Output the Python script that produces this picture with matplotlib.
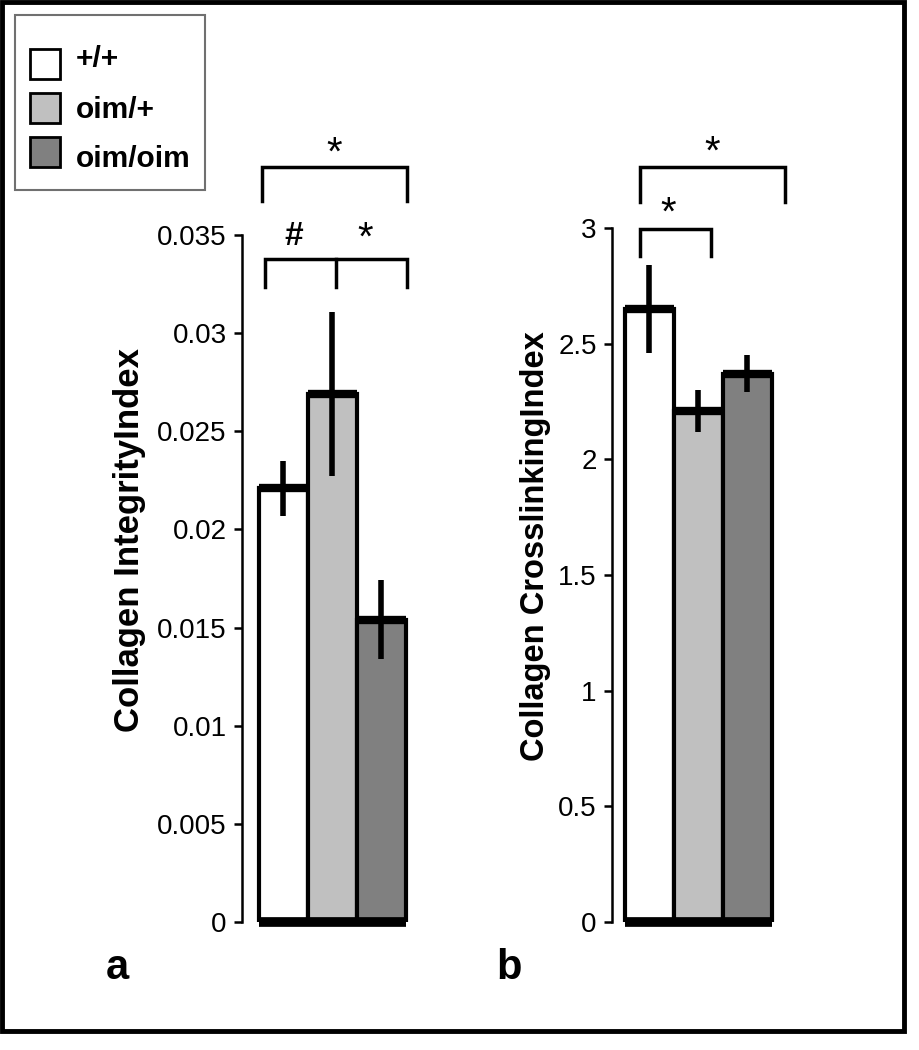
import matplotlib.pyplot as plt
from matplotlib.patches import Rectangle

plt.rcParams['font.family'] = ['Liberation Sans', 'DejaVu Sans']

# datos
grupos = ['+/+', 'oim/+', 'oim/oim']
colores = ['#ffffff', '#c0c0c0', '#808080']

integ_media = [0.0221, 0.0269, 0.0154]
integ_err = [0.0014, 0.0042, 0.0020]
integ_ticks = [0, 0.005, 0.01, 0.015, 0.02, 0.025, 0.03, 0.035]
integ_ticklabels = ['0', '0.005', '0.01', '0.015', '0.02', '0.025', '0.03', '0.035']

cross_media = [2.65, 2.21, 2.37]
cross_err = [0.19, 0.09, 0.08]
cross_ticks = [0, 0.5, 1, 1.5, 2, 2.5, 3]
cross_ticklabels = ['0', '0.5', '1', '1.5', '2', '2.5', '3']

W, H = 920, 1050
fig = plt.figure(figsize=(W / 100, H / 100), dpi=100)

# marco negro alrededor de todo
fig.patches.append(Rectangle((2 / W, 1 - 1031 / H), 902 / W, 1029 / H,
                             transform=fig.transFigure, fill=False,
                             edgecolor='black', linewidth=3.5, zorder=10))


def panel(rect, medias, errs, ticks, ticklabels, ylim, xlim, ylabel,
          lab_xy, lab_size):
    ax = fig.add_axes(rect)
    x = range(len(medias))
    ax.bar(x, medias, width=1.0, color=colores, edgecolor='black',
           linewidth=3, zorder=2)
    ax.hlines(medias, [i - 0.5 for i in x], [i + 0.5 for i in x],
              color='black', linewidth=6, zorder=3)
    ax.hlines(0, -0.5, len(medias) - 0.5, color='black', linewidth=7,
              zorder=4, clip_on=False)
    ax.errorbar(x, medias, yerr=errs, fmt='none', ecolor='black',
                elinewidth=4, capsize=0, zorder=5)
    ax.set_ylim(*ylim)
    ax.set_xlim(*xlim)
    ax.set_yticks(ticks)
    ax.set_yticklabels(ticklabels)
    ax.set_xticks([])
    for s in ['top', 'right', 'bottom']:
        ax.spines[s].set_visible(False)
    ax.spines['left'].set_linewidth(1.8)
    ax.tick_params(axis='y', direction='out', length=6, width=1.8,
                   labelsize=20, pad=5)
    ax.set_ylabel(ylabel, fontsize=lab_size, fontweight='bold')
    ax.yaxis.set_label_coords(*lab_xy)
    return ax


def corchete(ax, x0, x1, y_top, y_bot, xmid=None):
    ax.plot([x0, x0, x1, x1], [y_bot, y_top, y_top, y_bot], color='black',
            linewidth=2.5, clip_on=False, solid_joinstyle='miter')
    if xmid is not None:
        ax.plot([xmid, xmid], [y_top, y_bot], color='black', linewidth=2.5,
                clip_on=False)


# panel a
ax1 = panel([242 / W, 1 - 922 / H, 178 / W, 687 / H], integ_media, integ_err,
            integ_ticks, integ_ticklabels, (0, 0.035), (-0.847, 2.79),
            'Collagen IntegrityIndex', (-0.54, 0.556), 25)
corchete(ax1, -0.44, 2.52, 0.03847, 0.03673)
ax1.text(1.03, 0.03913, '*', ha='center', va='center', fontsize=29)
corchete(ax1, -0.38, 2.52, 0.03378, 0.03235, xmid=1.07)
ax1.text(0.2, 0.0349, '#', ha='center', va='center', fontsize=24,
         fontweight='bold')
ax1.text(1.67, 0.0348, '*', ha='center', va='center', fontsize=29)
fig.text(106 / W, 1 - 979 / H, 'a', fontsize=30, fontweight='bold',
         ha='left', va='baseline')

# panel b
ax2 = panel([612 / W, 1 - 922 / H, 178 / W, 694 / H], cross_media, cross_err,
            cross_ticks, cross_ticklabels, (0, 3), (-0.765, 2.87),
            'Collagen CrosslinkingIndex', (-0.345, 0.542), 23.5)
corchete(ax2, -0.19, 2.77, 3.264, 3.113)
ax2.text(1.28, 3.325, '*', ha='center', va='center', fontsize=29)
corchete(ax2, -0.19, 1.25, 2.996, 2.879)
ax2.text(0.38, 3.061, '*', ha='center', va='center', fontsize=29)
fig.text(496 / W, 1 - 979 / H, 'b', fontsize=30, fontweight='bold',
         ha='left', va='baseline')

# leyenda dibujada a mano
fig.patches.append(Rectangle((15 / W, 1 - 190 / H), 190 / W, 175 / H,
                             transform=fig.transFigure, fill=False,
                             edgecolor='#707070', linewidth=1.5))
ys = [64, 108, 152]
bases = [67, 118, 167]
for g, c, y, b in zip(grupos, colores, ys, bases):
    fig.patches.append(Rectangle((30 / W, 1 - (y + 15) / H), 30 / W, 30 / H,
                                 transform=fig.transFigure, facecolor=c,
                                 edgecolor='black', linewidth=2))
    fig.text(76 / W, 1 - b / H, g, fontsize=21.5, fontweight='bold',
             ha='left', va='baseline')

fig.savefig('out.png', dpi=100)
